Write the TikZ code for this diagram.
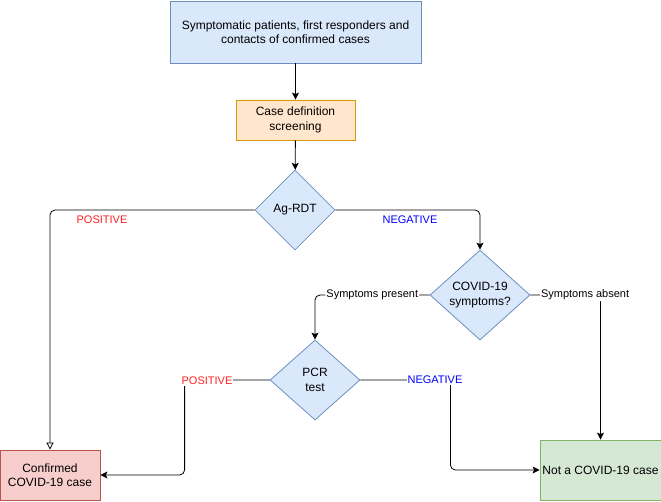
\documentclass[tikz,border=0pt]{standalone}
\usepackage{fontspec}
\setmainfont{Liberation Sans}
\usetikzlibrary{shapes.geometric,arrows.meta}

\definecolor{bluefill}{HTML}{DAE8FC}
\definecolor{bluedraw}{HTML}{6C8EBF}
\definecolor{orangefill}{HTML}{FFE6CC}
\definecolor{orangedraw}{HTML}{D79B00}
\definecolor{redfill}{HTML}{F8CECC}
\definecolor{reddraw}{HTML}{B85450}
\definecolor{greenfill}{HTML}{D5E8D4}
\definecolor{greendraw}{HTML}{82B366}
\definecolor{posred}{HTML}{FF2222}
\definecolor{negblue}{HTML}{0000FF}

\begin{document}
\begin{tikzpicture}[x=1pt,y=-1pt,
	every node/.style={draw,line width=0.8pt,inner sep=0pt,align=center,
		font=\fontsize{12}{14.5}\selectfont},
	box/.style={rectangle},
	decision/.style={diamond,fill=bluefill,draw=bluedraw}]
	\useasboundingbox (0,0) rectangle (661,501);

	\node[box,fill=bluefill,draw=bluedraw,minimum width=251pt,minimum height=62pt] (top) at (295.5,32)
		{Symptomatic patients, first responders and\\contacts of confirmed cases};
	\node[box,fill=orangefill,draw=orangedraw,minimum width=119pt,minimum height=40pt] (screen) at (295.5,120)
		{Case definition\\screening};
	\node[decision,minimum width=80pt,minimum height=80pt] (ag) at (295,210) {Ag-RDT};
	\node[decision,minimum width=100pt,minimum height=90pt] (sym) at (480,295) {COVID-19\\symptoms?};
	\node[decision,minimum width=90pt,minimum height=80pt] (pcr) at (315,380) {PCR\\test};
	\node[box,fill=redfill,draw=reddraw,minimum width=100pt,minimum height=50pt] (conf) at (50,475)
		{Confirmed\\COVID-19 case};
	\node[box,fill=greenfill,draw=greendraw,minimum width=121pt,minimum height=60pt] (notc) at (600.5,470)
		{Not a COVID-19 case};

	\begin{scope}[every node/.style={fill=white,inner sep=1pt,font=\fontsize{11}{13}\selectfont},
		          arr/.style={draw,line width=0.8pt,rounded corners=5pt,-{Stealth[length=7pt,width=7pt,inset=1.5pt]}}]
		\path [arr] (top) -- (screen);
		\path [arr] (screen) -- (ag);
		\path [arr,-{Triangle[open,length=7pt,width=7pt]}] (ag.west) -| (conf.north);
		\path [arr] (ag.east) -| (sym.north);
		\path [arr] (sym.west) -| node[pos=0.25] {Symptoms present} (pcr.north);
		\path [arr] (sym.east) -| node[pos=0.39] {Symptoms absent} (notc.north);
		\path [arr] (pcr.west) -| ++(-85,95) -- (conf.east);
		\path [arr] (pcr.east) -| ++(90,90) -- (notc.west);
		\node[text=posred] (agpos) at (102,220) {POSITIVE};
		\node[text=negblue] (agneg) at (410,220) {NEGATIVE};
		\node[text=posred] (pcrpos) at (207,381) {POSITIVE};
		\node[text=negblue] (pcrneg) at (435,380) {NEGATIVE};
	\end{scope}
\end{tikzpicture}
\end{document}
